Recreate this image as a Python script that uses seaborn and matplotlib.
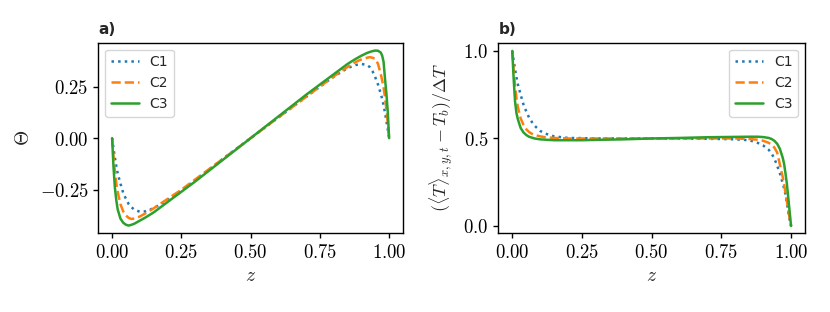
import numpy as np
import pandas as pd
import matplotlib
matplotlib.use("Agg")
import matplotlib.pyplot as plt
from matplotlib.ticker import FuncFormatter
import seaborn as sns

# values
z = [0.0, 0.005, 0.01, 0.015, 0.02, 0.03, 0.04, 0.05, 0.06, 0.07, 0.08, 0.10,
     0.12, 0.15, 0.2, 0.25, 0.3, 0.4, 0.5, 0.6, 0.7, 0.75, 0.8, 0.85, 0.88,
     0.9, 0.92, 0.93, 0.94, 0.95, 0.96, 0.97, 0.975, 0.98, 0.985, 0.99, 0.995, 1.0]

# panel a) Theta
theta_c1 = [0.0, -0.05, -0.095, -0.135, -0.17, -0.22, -0.265, -0.295, -0.32, -0.335, -0.347, -0.357,
            -0.355, -0.34, -0.3, -0.255, -0.205, -0.1, 0.0, 0.1, 0.2, 0.25, 0.298, 0.34, 0.355,
            0.36, 0.355, 0.345, 0.325, 0.295, 0.26, 0.215, 0.19, 0.16, 0.125, 0.085, 0.045, 0.0]
theta_c2 = [0.0, -0.09, -0.16, -0.22, -0.26, -0.32, -0.355, -0.375, -0.387, -0.392, -0.39, -0.38,
            -0.365, -0.34, -0.295, -0.25, -0.2, -0.1, 0.0, 0.1, 0.2, 0.25, 0.3, 0.345, 0.37,
            0.382, 0.39, 0.393, 0.39, 0.385, 0.36, 0.31, 0.28, 0.245, 0.2, 0.14, 0.075, 0.0]
theta_c3 = [0.0, -0.14, -0.24, -0.30, -0.345, -0.39, -0.41, -0.42, -0.424, -0.42, -0.415, -0.40,
            -0.385, -0.36, -0.31, -0.26, -0.21, -0.105, 0.0, 0.105, 0.21, 0.26, 0.31, 0.36, 0.385,
            0.40, 0.413, 0.418, 0.422, 0.425, 0.424, 0.415, 0.40, 0.37, 0.29, 0.22, 0.13, 0.0]

# panel b) mean temperature
temp_c1 = [1.0, 0.945, 0.895, 0.85, 0.81, 0.75, 0.695, 0.655, 0.62, 0.595, 0.573, 0.543,
           0.527, 0.512, 0.503, 0.502, 0.5, 0.5, 0.5, 0.5, 0.498, 0.497, 0.495, 0.49, 0.475,
           0.46, 0.435, 0.415, 0.385, 0.345, 0.3, 0.245, 0.215, 0.18, 0.13, 0.08, 0.035, 0.0]
temp_c2 = [1.0, 0.89, 0.8, 0.73, 0.68, 0.615, 0.578, 0.553, 0.537, 0.527, 0.52, 0.512,
           0.507, 0.503, 0.5, 0.5, 0.5, 0.5, 0.5, 0.5, 0.5, 0.5, 0.5, 0.497, 0.493,
           0.487, 0.475, 0.465, 0.448, 0.42, 0.35, 0.28, 0.235, 0.19, 0.14, 0.09, 0.04, 0.0]
temp_c3 = [1.0, 0.84, 0.71, 0.645, 0.61, 0.56, 0.535, 0.52, 0.51, 0.505, 0.5, 0.495,
           0.493, 0.49, 0.49, 0.49, 0.492, 0.495, 0.5, 0.503, 0.507, 0.508, 0.509, 0.51, 0.51,
           0.508, 0.503, 0.497, 0.487, 0.47, 0.44, 0.39, 0.355, 0.30, 0.24, 0.16, 0.08, 0.0]

labels = ["C1", "C2", "C3"]
colors = ["#1f77b4", "#ff7f0e", "#2ca02c"]
styles = [":", "--", "-"]

sns.set_theme(style="ticks")
plt.rcParams["font.family"] = ["DejaVu Sans"]
plt.rcParams["mathtext.fontset"] = "cm"
plt.rcParams["axes.linewidth"] = 1.0
plt.rcParams["axes.edgecolor"] = "black"
plt.rcParams["xtick.color"] = "black"
plt.rcParams["ytick.color"] = "black"

fig = plt.figure(figsize=(8.3, 3.12), dpi=100)
ax1 = fig.add_axes([0.1184, 0.2532, 0.3671, 0.6099])
ax2 = fig.add_axes([0.6004, 0.2532, 0.3695, 0.6099])

for vals, lab, c, ls in zip([theta_c1, theta_c2, theta_c3], labels, colors, styles):
    sns.lineplot(x=z, y=vals, ax=ax1, color=c, linestyle=ls, linewidth=1.8, label=lab)
for vals, lab, c, ls in zip([temp_c1, temp_c2, temp_c3], labels, colors, styles):
    sns.lineplot(x=z, y=vals, ax=ax2, color=c, linestyle=ls, linewidth=1.8, label=lab)

fmt2 = FuncFormatter(lambda v, _: f"${v:.2f}$")
fmt1 = FuncFormatter(lambda v, _: f"${v:.1f}$")

for ax in (ax1, ax2):
    ax.set_xlim(-0.05, 1.05)
    ax.set_xticks([0, 0.25, 0.5, 0.75, 1.0])
    ax.xaxis.set_major_formatter(fmt2)
    ax.set_xlabel("$z$", fontsize=14, labelpad=3)
    ax.tick_params(labelsize=13.5, length=3.5, width=1.0)

ax1.set_ylim(-0.46, 0.463)
ax1.set_yticks([-0.25, 0, 0.25])
ax1.yaxis.set_major_formatter(fmt2)
ax1.set_ylabel(r"$\Theta$", fontsize=14, labelpad=5)
ax1.legend(loc="upper left", fontsize=10)
ax1.set_title("a)", loc="left", fontweight="bold", fontsize=11)

ax2.set_ylim(-0.04, 1.047)
ax2.set_yticks([0, 0.5, 1.0])
ax2.yaxis.set_major_formatter(fmt1)
ax2.set_ylabel(r"$(\langle T\rangle_{x,y,t} - T_b)/\Delta T$", fontsize=13, labelpad=6)
ax2.legend(loc="upper right", fontsize=10)
ax2.set_title("b)", loc="left", fontweight="bold", fontsize=11)

fig.savefig("out.png", dpi=100)
